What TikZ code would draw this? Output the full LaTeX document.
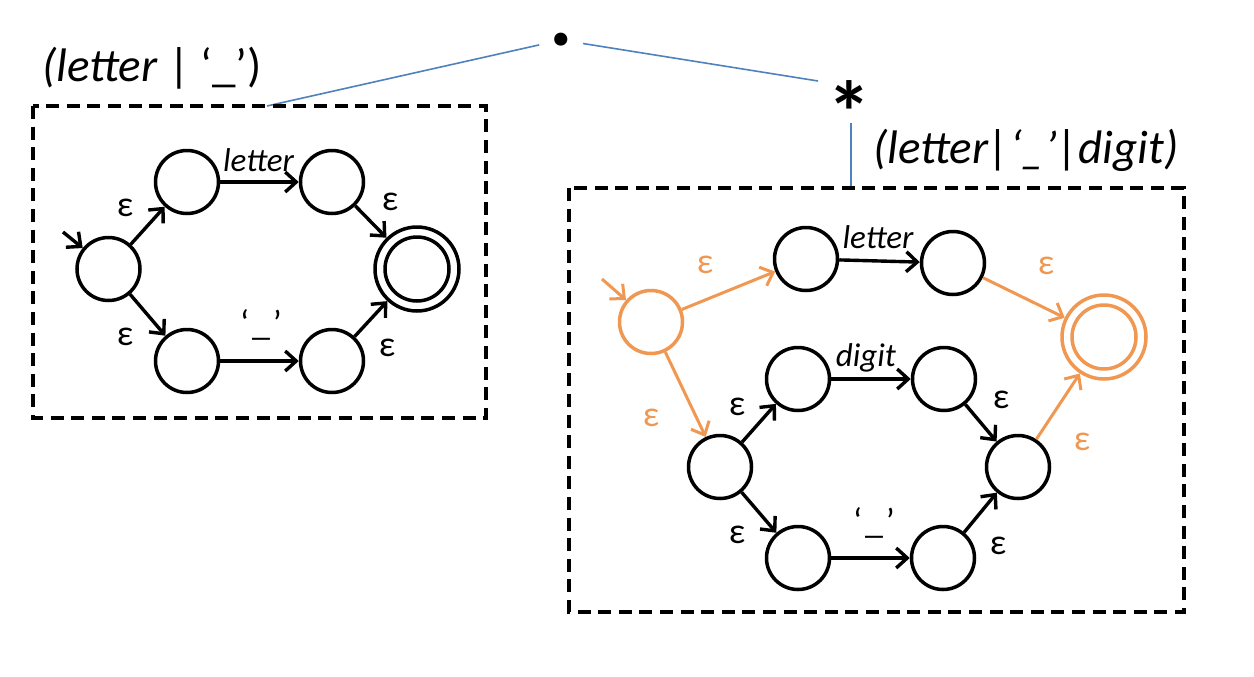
\documentclass[tikz,border=0pt]{standalone}
\usepackage{fontspec}
\setmainfont{Carlito}
\usetikzlibrary{arrows.meta}
\definecolor{nfaorange}{RGB}{240,152,82}
\definecolor{treeblue}{RGB}{79,129,189}
\tikzset{
  stnode/.style={circle, draw=#1, line width=1.75pt, minimum size=31.5pt, inner sep=0pt},
  stnode/.default=black,
  acceptnode/.style={circle, draw=#1, line width=1.75pt, minimum size=42pt, inner sep=0pt,
    path picture={\draw[line width=1.75pt,#1] (path picture bounding box.center) circle (16pt);}},
  acceptnode/.default=black,
  transarrow/.style={line width=1.7pt, -{Straight Barb[length=5.5pt,width=10pt]}},
  orangearrow/.style={transarrow, nfaorange, line width=1.5pt},
  dashframe/.style={line width=1.7pt, dash pattern=on 6.5pt off 3.8pt},
  epslabel/.style={font=\fontsize{18}{18}\selectfont, inner sep=0pt},
  symlabel/.style={font=\fontsize{16.5}{16.5}\selectfont\itshape, inner sep=0pt, anchor=base},
  quotelabel/.style={font=\fontsize{18}{18}\selectfont, inner sep=0pt, anchor=base},
  toplabel/.style={font=\fontsize{23.5}{23.5}\selectfont, inner sep=0pt, anchor=base},
  treeline/.style={treeblue, line width=0.8pt},
}
\begin{document}
\begin{tikzpicture}[x=0.5pt,y=-0.5pt]
\useasboundingbox (0,0) rectangle (1254,676);

% syntax tree
\node[circle, minimum size=22pt, inner sep=0pt, font=\fontsize{44}{44}\selectfont\bfseries] (cat) at (561,40) {.};
\node[font=\fontsize{44}{44}\selectfont\bfseries, inner sep=0pt, anchor=base] (star) at (849,143) {*};
\coordinate (ltop) at (267,106);
\coordinate (starin) at (818,81);
\coordinate (starout) at (851,123);
\coordinate (rtop) at (851,188);
\draw[treeline] (cat) -- (ltop);
\draw[treeline] (cat) -- (starin);
\draw[treeline] (starout) -- (rtop);

\node[toplabel] (lbl1) at (152,81) {\textit{(letter} | ‘\_’)};
\node[toplabel] (lbl2) at (1026,163) {\textit{(letter|‘\_’|digit)}};

% frames
\draw[dashframe] (33,106) rectangle (486,418);
\draw[dashframe] (569,188) rectangle (1184,612);

% left NFA
\node[stnode] (a0) at (108.5,269) {};
\node[stnode] (a1) at (187,182) {};
\node[stnode] (a2) at (332,182) {};
\node[stnode] (a3) at (187,361) {};
\node[stnode] (a4) at (332,361) {};
\node[acceptnode] (a5) at (417,269) {};
\coordinate (a0in) at (63,232);
\draw[transarrow] (a0in) -- (a0);
\draw[transarrow] (a0) -- (a1);
\draw[transarrow] (a0) -- (a3);
\draw[transarrow] (a1) -- (a2);
\draw[transarrow] (a3) -- (a4);
\draw[transarrow] (a2) -- (a5);
\draw[transarrow] (a4) -- (a5);
\node[symlabel] (la1) at (258.5,171) {letter};
\node[quotelabel] (la2) at (261,335) {‘\kern1.5pt\_\kern1.5pt’};
\node[epslabel] (ea1) at (125,208) {ε};
\node[epslabel] (ea2) at (125,337) {ε};
\node[epslabel] (ea3) at (390,202) {ε};
\node[epslabel] (ea4) at (387,348) {ε};

% right NFA
\node[stnode=nfaorange] (b0) at (651,322) {};
\node[stnode] (b1) at (806,259) {};
\node[stnode] (b2) at (953,263) {};
\node[stnode] (b3) at (798,379) {};
\node[stnode] (b4) at (944,379) {};
\node[stnode] (b5) at (720,467) {};
\node[stnode] (b6) at (1018,467) {};
\node[stnode] (b7) at (798,558) {};
\node[stnode] (b8) at (943,558) {};
\node[acceptnode=nfaorange] (bf) at (1104,337) {};
\coordinate (b0in) at (602,279);
\draw[orangearrow] (b0in) -- (b0);
\draw[orangearrow] (b0) -- (b1);
\draw[orangearrow] (b0) -- (b5);
\draw[orangearrow] (b2) -- (bf);
\draw[orangearrow] (b6) -- (bf);
\draw[transarrow] (b1) -- (b2);
\draw[transarrow] (b3) -- (b4);
\draw[transarrow] (b5) -- (b3);
\draw[transarrow] (b5) -- (b7);
\draw[transarrow] (b4) -- (b6);
\draw[transarrow] (b7) -- (b8);
\draw[transarrow] (b8) -- (b6);
\node[symlabel] (lb1) at (878,248) {letter};
\node[symlabel] (lb2) at (866,366) {digit};
\node[quotelabel] (lb3) at (874,533) {‘\kern1.5pt\_\kern1.5pt’};
\node[epslabel, nfaorange] (eb1) at (705,265) {ε};
\node[epslabel, nfaorange] (eb2) at (651,418) {ε};
\node[epslabel, nfaorange] (eb3) at (1046,266) {ε};
\node[epslabel, nfaorange] (eb4) at (1082,442) {ε};
\node[epslabel] (eb5) at (737,407) {ε};
\node[epslabel] (eb6) at (737,535) {ε};
\node[epslabel] (eb7) at (1001,400) {ε};
\node[epslabel] (eb8) at (998,546) {ε};
\end{tikzpicture}
\end{document}
